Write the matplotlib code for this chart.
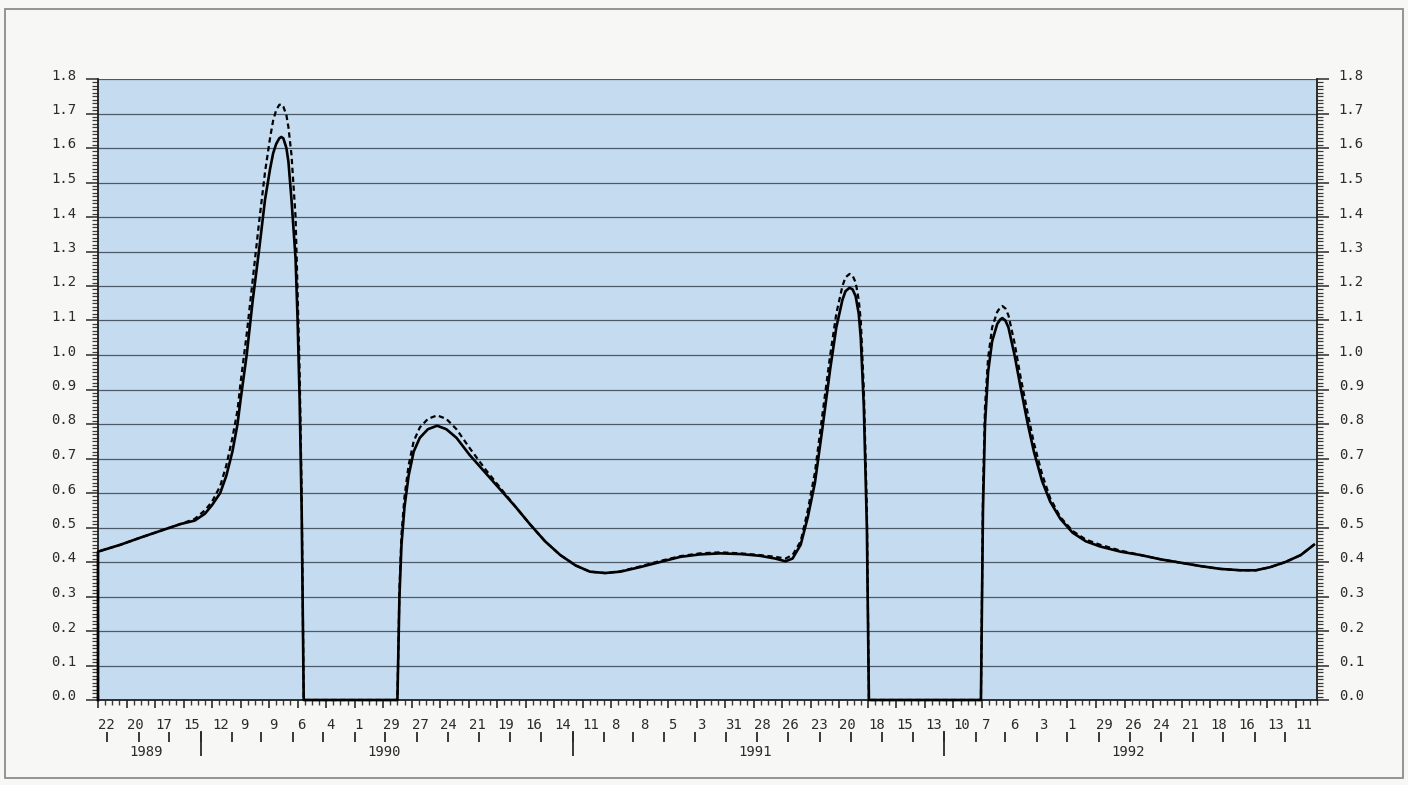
import datetime as dt
import numpy as np
import matplotlib
matplotlib.use("Agg")
import matplotlib.pyplot as plt
from matplotlib.ticker import FixedLocator
from matplotlib.transforms import ScaledTranslation
from matplotlib.patches import Rectangle

# Time axis: days counted from the first plotted date
START = dt.date(1989, 9, 22)
END = dt.date(1993, 1, 1)

days = [0, 0, 22, 41, 61, 81, 95, 105, 112, 120, 126, 132, 137, 140, 146, 152,
        158, 164, 169, 172, 175, 178, 180, 182, 185, 187, 190, 194, 196, 198,
        200, 202,
        294, 296, 298, 301, 305, 310, 316, 324, 333, 342, 352, 365, 380, 395,
        410, 424, 439, 454, 469, 483, 498, 513, 532, 552, 572, 591, 611, 631,
        650, 665, 675, 682, 690, 697, 704, 711, 719, 725, 731, 734, 738, 741,
        744, 747, 749, 752, 755, 757,
        867, 869, 871, 874, 878, 883, 886, 888, 891, 894, 900, 906, 913, 919,
        927, 935, 945, 957, 970, 984, 1004, 1024, 1043, 1063, 1083, 1102, 1122,
        1137, 1151, 1166, 1181, 1194]

solid = [0.0, 0.43, 0.45, 0.47, 0.49, 0.51, 0.52, 0.54, 0.565, 0.60, 0.65, 0.72,
         0.80, 0.87, 1.00, 1.16, 1.30, 1.45, 1.54, 1.585, 1.612, 1.628, 1.632,
         1.628, 1.60, 1.56, 1.45, 1.28, 1.10, 0.87, 0.55, 0.0,
         0.0, 0.30, 0.45, 0.56, 0.65, 0.72, 0.76, 0.785, 0.795, 0.785, 0.76,
         0.71, 0.66, 0.61, 0.56, 0.51, 0.46, 0.42, 0.39, 0.372, 0.368, 0.372,
         0.385, 0.40, 0.415, 0.422, 0.425, 0.423, 0.418, 0.41, 0.402, 0.41,
         0.45, 0.53, 0.63, 0.78, 0.96, 1.08, 1.16, 1.185, 1.195, 1.19, 1.17,
         1.12, 1.05, 0.85, 0.50, 0.0,
         0.0, 0.55, 0.80, 0.95, 1.04, 1.09, 1.103, 1.107, 1.10, 1.08, 1.00,
         0.905, 0.80, 0.72, 0.635, 0.575, 0.525, 0.485, 0.46, 0.445, 0.43, 0.42,
         0.408, 0.398, 0.388, 0.38, 0.376, 0.376, 0.385, 0.40, 0.42, 0.45]

dashed = [0.0, 0.43, 0.45, 0.47, 0.49, 0.51, 0.525, 0.55, 0.575, 0.62, 0.68, 0.76,
          0.84, 0.92, 1.06, 1.22, 1.38, 1.53, 1.63, 1.68, 1.71, 1.725, 1.727,
          1.72, 1.695, 1.66, 1.58, 1.40, 1.18, 0.95, 0.60, 0.0,
          0.0, 0.32, 0.48, 0.59, 0.68, 0.75, 0.79, 0.815, 0.825, 0.815, 0.785,
          0.73, 0.67, 0.615, 0.56, 0.51, 0.46, 0.42, 0.39, 0.372, 0.368, 0.373,
          0.387, 0.403, 0.417, 0.425, 0.428, 0.425, 0.42, 0.415, 0.41, 0.42,
          0.46, 0.55, 0.66, 0.82, 1.00, 1.12, 1.20, 1.225, 1.235, 1.23, 1.21,
          1.16, 1.10, 0.90, 0.55, 0.0,
          0.0, 0.60, 0.85, 0.99, 1.08, 1.125, 1.138, 1.142, 1.135, 1.115, 1.035,
          0.935, 0.83, 0.745, 0.655, 0.585, 0.53, 0.49, 0.465, 0.45, 0.433, 0.42,
          0.408, 0.398, 0.388, 0.38, 0.376, 0.376, 0.385, 0.40, 0.42, 0.45]

# Day-of-month labels for the four-weekly major ticks
week_labels = ["22", "20", "17", "15", "12", "9", "9", "6", "4", "1",
               "29", "27", "24", "21", "19", "16", "14", "11", "8", "8",
               "5", "3", "31", "28", "26", "23", "20", "18", "15", "13",
               "10", "7", "6", "3", "1", "29", "26", "24", "21", "18",
               "16", "13", "11"]
year_labels = ["1989", "1990", "1991", "1992"]
y_labels = ["%.1f" % (i / 10) for i in range(19)]

FONT = "DejaVu Sans Mono"
FS = 10
TXT = "#2b2b2b"
W, H, DPI = 1408, 785, 100


def day_of(d):
    return (d - START).days


total = day_of(END)

fig = plt.figure(figsize=(W / DPI, H / DPI), dpi=DPI)
fig.patch.set_facecolor("#f7f7f5")
fig.patches.append(Rectangle((5 / W, 1 - 778 / H), 1398 / W, 769 / H,
                             transform=fig.transFigure, fill=False,
                             edgecolor="#8c8c8c", lw=1.3))

left, right, top, bottom = 98, 1317, 79, 700
ax = fig.add_axes([left / W, 1 - bottom / H, (right - left) / W, (bottom - top) / H])
ax.set_facecolor("#c5dcf0")

ax.plot(days, dashed, color="black", lw=1.6, ls=(0, (2.4, 1.6)), clip_on=False, zorder=3)
ax.plot(days, solid, color="black", lw=1.9, clip_on=False, zorder=4,
        solid_joinstyle="round")

ax.set_xlim(0, total)
ax.set_ylim(0, 1.8)

# Horizontal rules at every tenth
for v in np.arange(1, 19) / 10:
    ax.axhline(v, color="#4a5868", lw=0.9, zorder=1)

for s in ["left", "right", "bottom"]:
    ax.spines[s].set_color("#1e1e1e")
    ax.spines[s].set_linewidth(1.3)
ax.spines["top"].set_visible(False)

# Y axis on both sides
ax.set_yticks(np.arange(19) / 10)
ax.set_yticklabels(y_labels, fontfamily=FONT, fontsize=FS, color=TXT)
ax.yaxis.set_minor_locator(FixedLocator(np.arange(181) / 100))
ax.tick_params(axis="y", which="major", direction="out", length=8.6, width=1.1,
               color="#2b2b2b", left=True, right=True, labelleft=True,
               labelright=True, pad=7)
ax.tick_params(axis="y", which="minor", direction="out", length=4.3, width=0.9,
               color="#3a3a3a", left=True, right=True)
lift = ScaledTranslation(0, 0.05, fig.dpi_scale_trans)
for t in ax.yaxis.get_major_ticks():
    t.label1.set_transform(t.label1.get_transform() + lift)
    t.label2.set_transform(t.label2.get_transform() + lift)

# X axis: four-weekly major ticks, weekly minor ticks
ax.set_xticks(np.arange(len(week_labels)) * 28)
ax.set_xticklabels(week_labels, fontfamily=FONT, fontsize=FS, color=TXT, ha="left")
ax.xaxis.set_minor_locator(FixedLocator(np.arange(0, total + 1, 7)))
ax.tick_params(axis="x", which="major", direction="out", length=5.8, width=1.2,
               color="#2b2b2b", pad=7)
ax.tick_params(axis="x", which="minor", direction="out", length=3.4, width=1.0,
               color="#3a3a3a")

# Month boundaries
months = []
y, m = START.year, START.month + 1
while dt.date(y, m, 1) < END:
    months.append(day_of(dt.date(y, m, 1)))
    m += 1
    if m > 12:
        y, m = y + 1, 1
ph = bottom - top
sec_m = ax.secondary_xaxis((bottom - 737) / ph)
sec_m.patch.set_visible(False)
sec_m.set_xticks(months)
sec_m.tick_params(which="major", direction="inout", length=7.2, width=1.3,
                  color="#2b2b2b", labelbottom=False, labeltop=False)
for s in sec_m.spines.values():
    s.set_visible(False)

# Year boundaries and year names centred on each visible year
years = [day_of(dt.date(yy, 1, 1)) for yy in (1990, 1991, 1992)]
edges = [0] + years + [total]
mids = [(a + b) / 2 - 3 for a, b in zip(edges[:-1], edges[1:])]
sec_y = ax.secondary_xaxis((bottom - 742.5) / ph)
sec_y.patch.set_visible(False)
sec_y.set_xticks(years)
sec_y.set_xticks(mids, labels=year_labels, minor=True)
sec_y.tick_params(which="major", direction="inout", length=18, width=1.3,
                  color="#2b2b2b", labelbottom=False)
sec_y.tick_params(which="minor", length=0, pad=1.8, labelsize=FS, labelcolor=TXT)
for lab in sec_y.get_xticklabels(minor=True):
    lab.set_fontfamily(FONT)
for s in sec_y.spines.values():
    s.set_visible(False)

fig.savefig("out.png", dpi=DPI, facecolor=fig.get_facecolor())
